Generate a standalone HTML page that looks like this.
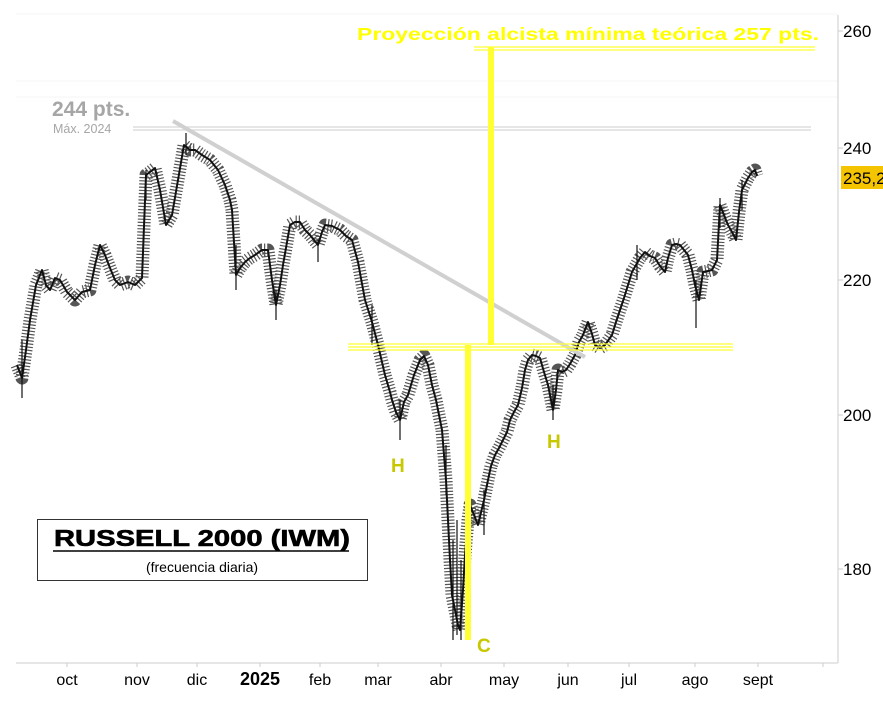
<!DOCTYPE html>
<html><head><meta charset="utf-8"><style>
html,body{margin:0;padding:0;background:#fff;}
svg{display:block;font-family:"Liberation Sans",Arial,sans-serif;}
</style></head><body>
<svg width="883" height="724" viewBox="0 0 883 724" xmlns="http://www.w3.org/2000/svg">
<rect width="883" height="724" fill="#fff"/>
<g stroke="#f4f4f4" stroke-width="1">
<line x1="16" y1="14" x2="838" y2="14"/><line x1="16" y1="81" x2="838" y2="81"/><line x1="16" y1="97" x2="838" y2="97"/>
</g>
<line x1="133" y1="127" x2="811" y2="127" stroke="#d8d8d8" stroke-width="1.3"/>
<line x1="133" y1="130" x2="811" y2="130" stroke="#d8d8d8" stroke-width="1.3"/>
<text x="52" y="116" font-size="21" font-weight="bold" fill="#a6a6a6">244 pts.</text>
<text x="53" y="133" font-size="12.5" fill="#a6a6a6">Máx. 2024</text>
<g fill="none" stroke-linejoin="round">
<polyline stroke="#555" stroke-width="13" stroke-dasharray="1.2 2" points="17,365 22,378 26,350 30,320 36,285 42,270 46,285 50,290 55,278 60,280 67,292 75,300 82,292 90,290 95,265 100,245 105,255 110,268 115,280 120,285 128,282 135,285 142,278 146,175 150,172 155,168 160,190 166,225 172,215 178,180 184,145 190,150 195,150 202,155 210,160 218,170 225,185 230,200 232,210 236,275 240,268 245,262 250,258 255,255 262,250 268,250 272,280 276,305 280,285 283,265 290,225 295,222 300,222 305,230 310,235 318,245 322,232 325,225 332,226 340,230 346,236 352,240 358,262 365,300 372,322 378,345 385,375 390,392 392,400 396,412 400,420 404,402 408,395 414,375 420,360 424,356 428,365 432,385 436,400 442,430 446,480 450,560 452,595 455,610 458,625 460,630 463,590 465,555 468,520 470,505 474,515 478,525 484,500 488,480 491,466 495,455 499,448 503,440 507,432 510,420 514,412 518,405 522,388 525,370 528,360 532,355 536,356 540,358 544,372 548,385 553,410 556,390 558,370 562,372 566,370 570,364 575,355 579,342 583,335 588,322 592,334 595,345 600,348 605,345 612,335 616,322 620,310 624,298 628,285 632,272 636,265 640,258 645,252 650,256 655,258 660,266 665,272 668,258 672,245 676,244 680,245 684,250 688,255 692,270 695,285 699,300 703,272 708,271 712,270 717,260 720,205 724,215 728,225 732,232 736,240 739,212 742,190 745,184 748,178 752,172 755,170 757,176"/>
<polyline stroke="#111" stroke-width="2" points="17,365 22,378 26,350 30,320 36,285 42,270 46,285 50,290 55,278 60,280 67,292 75,300 82,292 90,290 95,265 100,245 105,255 110,268 115,280 120,285 128,282 135,285 142,278 146,175 150,172 155,168 160,190 166,225 172,215 178,180 184,145 190,150 195,150 202,155 210,160 218,170 225,185 230,200 232,210 236,275 240,268 245,262 250,258 255,255 262,250 268,250 272,280 276,305 280,285 283,265 290,225 295,222 300,222 305,230 310,235 318,245 322,232 325,225 332,226 340,230 346,236 352,240 358,262 365,300 372,322 378,345 385,375 390,392 392,400 396,412 400,420 404,402 408,395 414,375 420,360 424,356 428,365 432,385 436,400 442,430 446,480 450,560 452,595 455,610 458,625 460,630 463,590 465,555 468,520 470,505 474,515 478,525 484,500 488,480 491,466 495,455 499,448 503,440 507,432 510,420 514,412 518,405 522,388 525,370 528,360 532,355 536,356 540,358 544,372 548,385 553,410 556,390 558,370 562,372 566,370 570,364 575,355 579,342 583,335 588,322 592,334 595,345 600,348 605,345 612,335 616,322 620,310 624,298 628,285 632,272 636,265 640,258 645,252 650,256 655,258 660,266 665,272 668,258 672,245 676,244 680,245 684,250 688,255 692,270 695,285 699,300 703,272 708,271 712,270 717,260 720,205 724,215 728,225 732,232 736,240 739,212 742,190 745,184 748,178 752,172 755,170 757,176"/>
</g>
<g stroke="#111" stroke-width="1.2">
<line x1="453" y1="540" x2="453" y2="640"/><line x1="457" y1="520" x2="457" y2="635"/><line x1="461" y1="560" x2="461" y2="640"/>
<line x1="22" y1="340" x2="22" y2="398"/><line x1="553" y1="385" x2="553" y2="420"/><line x1="696" y1="280" x2="696" y2="328"/>
<line x1="276" y1="290" x2="276" y2="320"/><line x1="400" y1="400" x2="400" y2="440"/><line x1="186" y1="133" x2="186" y2="155"/>
<line x1="146" y1="170" x2="146" y2="200"/><line x1="236" y1="245" x2="236" y2="290"/><line x1="318" y1="240" x2="318" y2="262"/>
<line x1="372" y1="305" x2="372" y2="345"/><line x1="446" y1="445" x2="446" y2="495"/><line x1="484" y1="490" x2="484" y2="535"/>
<line x1="637" y1="245" x2="637" y2="280"/><line x1="720" y1="198" x2="720" y2="228"/><line x1="742" y1="180" x2="742" y2="210"/>
</g>
<line x1="173" y1="121" x2="585" y2="357" stroke="#d0d0d0" stroke-width="4"/>
<g stroke="#ffff33">
<line x1="348" y1="344" x2="733" y2="344" stroke-width="1.2"/>
<line x1="348" y1="347" x2="733" y2="347" stroke-width="1.2"/>
<line x1="348" y1="350" x2="733" y2="350" stroke-width="1.2"/>
<line x1="474" y1="47" x2="815" y2="47" stroke-width="1.3"/>
<line x1="474" y1="50" x2="815" y2="50" stroke-width="1.3"/>
</g>
<rect x="488" y="47" width="6" height="298" fill="#ffff33"/>
<rect x="465" y="345" width="6" height="295" fill="#ffff33"/>
<text x="357" y="40" font-size="17.5" font-weight="bold" fill="#ffff00" textLength="462" lengthAdjust="spacingAndGlyphs">Proyección alcista mínima teórica 257 pts.</text>
<text x="391" y="472" font-size="19" font-weight="bold" fill="#c8c800">H</text>
<text x="547" y="448" font-size="19" font-weight="bold" fill="#c8c800">H</text>
<text x="477" y="652" font-size="19" font-weight="bold" fill="#c8c800">C</text>
<rect x="37.5" y="519.5" width="330" height="61" fill="#fff" stroke="#333" stroke-width="1"/>
<text x="202" y="546" font-size="23" font-weight="bold" text-anchor="middle" fill="#000" stroke="#000" stroke-width="0.6" textLength="296" lengthAdjust="spacingAndGlyphs">RUSSELL 2000 (IWM)</text>
<line x1="53" y1="551" x2="349" y2="551" stroke="#000" stroke-width="1.5"/>
<text x="202" y="572" font-size="14" text-anchor="middle" fill="#000">(frecuencia diaria)</text>
<line x1="838" y1="15" x2="838" y2="663" stroke="#ccc" stroke-width="1"/>
<line x1="16" y1="663" x2="838" y2="663" stroke="#ddd" stroke-width="1.5"/>
<g stroke="#ccc">
<line x1="838" y1="31" x2="843" y2="31"/><line x1="838" y1="148" x2="843" y2="148"/><line x1="838" y1="280" x2="843" y2="280"/><line x1="838" y1="415" x2="843" y2="415"/><line x1="838" y1="569" x2="843" y2="569"/>
<line x1="67" y1="663" x2="67" y2="667"/><line x1="137" y1="663" x2="137" y2="667"/><line x1="197" y1="663" x2="197" y2="667"/><line x1="260" y1="663" x2="260" y2="667"/><line x1="320" y1="663" x2="320" y2="667"/><line x1="378" y1="663" x2="378" y2="667"/><line x1="441" y1="663" x2="441" y2="667"/><line x1="504" y1="663" x2="504" y2="667"/><line x1="568" y1="663" x2="568" y2="667"/><line x1="629" y1="663" x2="629" y2="667"/><line x1="695" y1="663" x2="695" y2="667"/><line x1="758" y1="663" x2="758" y2="667"/><line x1="823" y1="663" x2="823" y2="667"/>
</g>
<g font-size="17" fill="#000">
<text x="843" y="37">260</text><text x="843" y="154">240</text><text x="843" y="286">220</text><text x="843" y="421">200</text><text x="843" y="575">180</text>
</g>
<rect x="841" y="166" width="42" height="23" fill="#f5c400"/>
<text x="843" y="184" font-size="17" fill="#000">235,2</text>
<g font-size="16" fill="#000" text-anchor="middle">
<text x="67" y="685">oct</text><text x="137" y="685">nov</text><text x="197" y="685">dic</text><text x="260" y="685" font-weight="bold" font-size="18">2025</text><text x="320" y="685">feb</text><text x="378" y="685">mar</text><text x="441" y="685">abr</text><text x="504" y="685">may</text><text x="568" y="685">jun</text><text x="629" y="685">jul</text><text x="695" y="685">ago</text><text x="758" y="685">sept</text>
</g>
</svg>
</body></html>
